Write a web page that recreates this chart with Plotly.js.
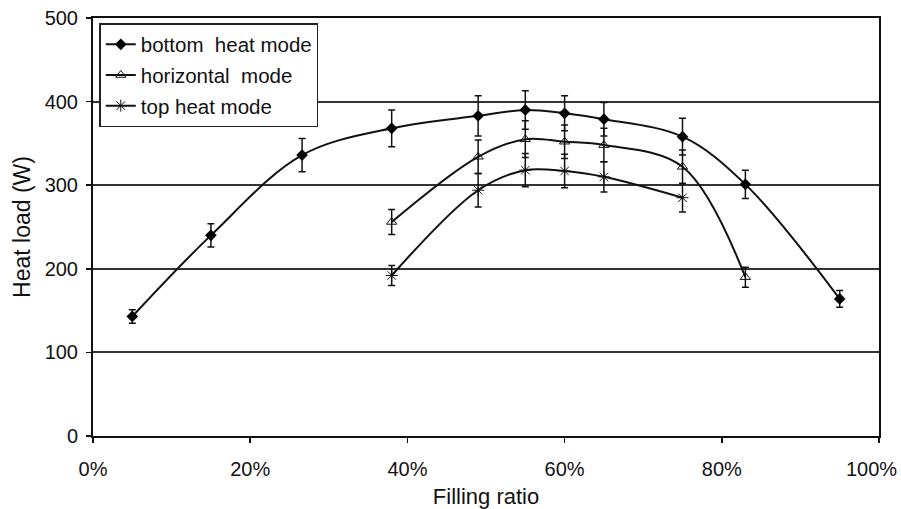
<!DOCTYPE html>
<html>
<head>
<meta charset="utf-8">
<script src="https://cdn.plot.ly/plotly-3.0.1.min.js"></script>
<style>html,body{margin:0;padding:0;background:#fff;}#chart{width:901px;height:509px;}</style>
</head>
<body>
<div id="chart"></div>
<script>
// Data (filling ratio as fraction, heat load in W, symmetric error)
const bottomX = [0.05, 0.15, 0.266, 0.38, 0.49, 0.55, 0.60, 0.65, 0.75, 0.83, 0.95];
const bottomY = [143, 240, 336, 368, 383, 390, 386, 379, 358, 301, 164];
const bottomErr = [8, 14, 20, 22, 24, 23, 21, 20, 22, 17, 10];

const horizX = [0.38, 0.49, 0.55, 0.60, 0.65, 0.75, 0.83];
const horizY = [256, 334, 355, 352, 348, 322, 190];
const horizErr = [15, 20, 22, 20, 20, 20, 12];

const topX = [0.38, 0.49, 0.55, 0.60, 0.65, 0.75];
const topY = [192, 294, 318, 317, 310, 285];
const topErr = [12, 20, 20, 20, 18, 17];

const names = ['bottom  heat mode', 'horizontal  mode', 'top heat mode'];
const xTicks = [0, 0.2, 0.4, 0.6, 0.8, 1.0];
const xTickText = ['0%', '20%', '40%', '60%', '80%', '100%'];
const yTicks = [0, 100, 200, 300, 400, 500];

// The last x tick label sits against the right edge (kept inside, as in the original),
// so it is drawn as an annotation anchored at its tick value.
const lastIdx = xTickText.length - 1;
const axisTickText = xTickText.map((t, i) => i === lastIdx ? '' : t);

function errBar(arr) {
  return {type: 'data', array: arr, visible: true, color: '#111', thickness: 1.5, width: 3.5};
}
const lineStyle = {color: '#111', width: 2, shape: 'spline', smoothing: 1};

const traces = [
  {x: bottomX, y: bottomY, error_y: errBar(bottomErr), name: names[0], legendgroup: 'a',
   mode: 'lines+markers', line: lineStyle,
   marker: {symbol: 'diamond', size: 9, color: '#000'}},
  {x: horizX, y: horizY, error_y: errBar(horizErr), name: names[1], legendgroup: 'b',
   mode: 'lines+markers', line: lineStyle,
   marker: {symbol: 'triangle-up-open', size: 9, color: '#111', line: {width: 1}}},
  {x: topX, y: topY, error_y: errBar(topErr), name: names[2], legendgroup: 'c',
   mode: 'lines+markers', line: lineStyle,
   marker: {symbol: 'asterisk-open', size: 10, color: '#111', line: {width: 1, color: '#111'}}}
];

const font = {family: 'Liberation Sans, Arial, sans-serif', color: '#111'};

const layout = {
  width: 901, height: 509,
  margin: {l: 93, r: 22, t: 18, b: 73},
  paper_bgcolor: '#fff', plot_bgcolor: '#fff',
  font: Object.assign({size: 20}, font),
  showlegend: true,
  legend: {
    x: 0.008, y: 0.988, xanchor: 'left', yanchor: 'top',
    bgcolor: '#fff', bordercolor: '#222', borderwidth: 1.5,
    font: Object.assign({size: 20.5}, font),
    traceorder: 'grouped', tracegroupgap: 1,
    itemwidth: 30
  },
  xaxis: {
    range: [0, 1], tickvals: xTicks, ticktext: axisTickText,
    showgrid: false, zeroline: false,
    showline: true, mirror: true, linecolor: '#111', linewidth: 2,
    ticks: 'outside', ticklen: 5, tickwidth: 1.5, tickcolor: '#111',
    ticklabelstandoff: 9,
    tickfont: Object.assign({size: 20}, font),
    title: {text: 'Filling ratio', font: Object.assign({size: 22}, font), standoff: 11}
  },
  yaxis: {
    range: [0, 500], tickvals: yTicks,
    showgrid: true, gridcolor: '#333', gridwidth: 2,
    zeroline: false,
    showline: true, mirror: true, linecolor: '#111', linewidth: 2,
    ticks: 'outside', ticklen: 5, tickwidth: 1.5, tickcolor: '#111',
    ticklabelstandoff: 4, ticklabeloverflow: 'allow',
    tickfont: Object.assign({size: 20}, font),
    title: {text: 'Heat load (W)', font: Object.assign({size: 23}, font), standoff: 8}
  },
  annotations: [{
    x: xTicks[lastIdx], y: 0, xref: 'x', yref: 'paper',
    text: xTickText[lastIdx], showarrow: false,
    xanchor: 'right', yanchor: 'top', xshift: 20, yshift: -20,
    font: Object.assign({size: 20}, font)
  }]
};

Plotly.newPlot('chart', traces, layout, {displayModeBar: false, staticPlot: true});
</script>
</body>
</html>
